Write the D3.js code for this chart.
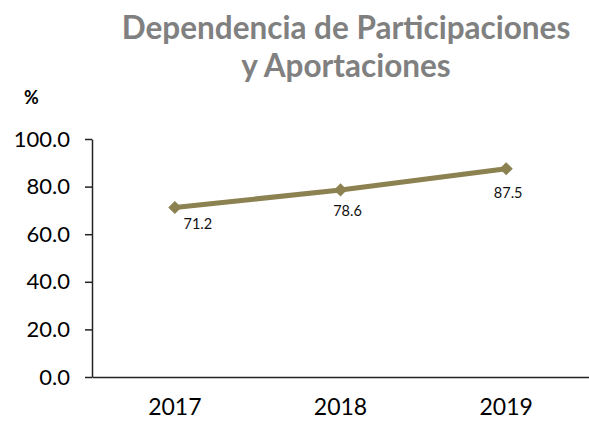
<!DOCTYPE html>
<html>
<head>
<meta charset="utf-8">
<script src="https://cdn.jsdelivr.net/npm/d3@7"></script>
<style>
  body { margin: 0; background: #fff; }
  text { font-family: Lato, "Open Sans", sans-serif; }
</style>
</head>
<body>
<div id="chart"></div>
<script>
// data
var years = ["2017", "2018", "2019"];
var values = [71.2, 78.6, 87.5];
var yTicks = [0, 20, 40, 60, 80, 100];
// label nudges (px) relative to each point
var labelDx = [23, 7, 2];
var labelDy = [21, 26, 29];

var width = 589, height = 421;
var margin = {top: 139, right: 0, bottom: 44, left: 92};

var svg = d3.select("#chart").append("svg")
    .attr("width", width).attr("height", height);

svg.append("text")
    .attr("x", 346).attr("y", 39)
    .attr("text-anchor", "middle")
    .attr("font-size", 31.5).attr("font-weight", "bold").attr("fill", "#808080")
    .text("Dependencia de Participaciones");
svg.append("text")
    .attr("x", 346).attr("y", 77)
    .attr("text-anchor", "middle")
    .attr("font-size", 31.5).attr("font-weight", "bold").attr("fill", "#808080")
    .text("y Aportaciones");

svg.append("text")
    .attr("x", 24).attr("y", 104)
    .attr("font-size", 18).attr("font-weight", "bold").attr("fill", "#000")
    .text("%");

var x = d3.scaleBand().domain(years).range([margin.left, width - margin.right]);
var y = d3.scaleLinear().domain([0, 100]).range([height - margin.bottom, margin.top]);

var yAxis = svg.append("g")
    .attr("transform", "translate(" + margin.left + ",0)")
    .call(d3.axisLeft(y).tickValues(yTicks).tickFormat(d3.format(".1f")).tickSize(7).tickPadding(15).tickSizeOuter(0));
yAxis.selectAll("text").attr("font-size", 22).attr("fill", "#000").style("font-family", "Lato, sans-serif");

var xAxis = svg.append("g")
    .attr("transform", "translate(0," + y(0) + ")")
    .call(d3.axisBottom(x).tickSize(0).tickPadding(22).tickSizeOuter(0));
xAxis.selectAll("text").attr("font-size", 23).attr("fill", "#000").style("font-family", "Lato, sans-serif");

svg.selectAll(".domain, .tick line").attr("stroke", "#222").attr("stroke-width", 1.5);

var line = d3.line()
    .x(function (d, i) { return x(years[i]) + x.bandwidth() / 2; })
    .y(function (d) { return y(d); });

svg.append("path")
    .datum(values)
    .attr("d", line)
    .attr("fill", "none")
    .attr("stroke", "#8c8150")
    .attr("stroke-width", 5);

svg.selectAll(".pt").data(values).enter().append("path")
    .attr("class", "pt")
    .attr("d", d3.symbol().type(d3.symbolDiamond2).size(110))
    .attr("transform", function (d, i) {
        return "translate(" + (x(years[i]) + x.bandwidth() / 2) + "," + y(d) + ")";
    })
    .attr("fill", "#8c8150");

svg.selectAll(".lbl").data(values).enter().append("text")
    .attr("class", "lbl")
    .attr("x", function (d, i) { return x(years[i]) + x.bandwidth() / 2 + labelDx[i]; })
    .attr("y", function (d, i) { return y(d) + labelDy[i]; })
    .attr("text-anchor", "middle")
    .attr("font-size", 14.5).attr("fill", "#111")
    .text(function (d) { return d.toFixed(1); });
</script>
</body>
</html>
